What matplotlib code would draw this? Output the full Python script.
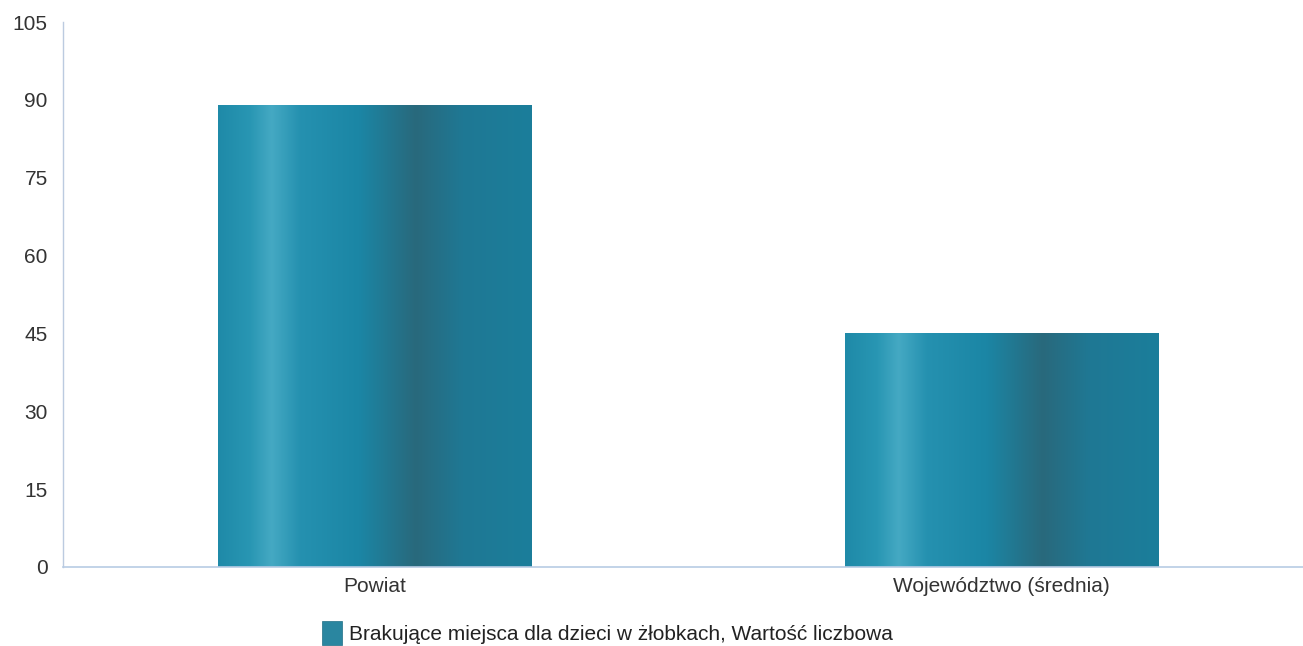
import numpy as np
import matplotlib
matplotlib.use("Agg")
import matplotlib.pyplot as plt
from matplotlib.colors import LinearSegmentedColormap
from matplotlib.patches import Patch

categories = ["Powiat", "Województwo (średnia)"]
values = [89, 45]
series_label = "Brakujące miejsca dla dzieci w żłobkach, Wartość liczbowa"
yticks = [0, 15, 30, 45, 60, 75, 90, 105]

plt.rcParams['font.family'] = ['Liberation Sans', 'DejaVu Sans']

fig = plt.figure(figsize=(13.03, 6.46), dpi=100)
ax = fig.add_axes([63/1303, 1-567/646, 1-63/1303, (567-22)/646])

cmap = LinearSegmentedColormap.from_list("bar", [
    (0.0, "#1f8aa8"), (0.10, "#2896b3"), (0.17, "#45a9c3"), (0.26, "#2591b0"),
    (0.45, "#1b86a5"), (0.63, "#29697c"), (0.78, "#1f7894"), (1.0, "#1b7e9b")])
grad = np.linspace(0, 1, 256).reshape(1, -1)

width = 0.5
x = np.arange(len(categories))
bars = ax.bar(x, values, width=width, color="none", edgecolor="none", zorder=2)
for b in bars:
    x0, y0 = b.get_x(), b.get_y()
    w, h = b.get_width(), b.get_height()
    im = ax.imshow(grad, cmap=cmap, aspect="auto", extent=[x0, x0 + w, y0, y0 + h],
                   interpolation="bicubic", zorder=2)
    im.set_clip_path(b)

ax.set_xlim(-0.498, 1.482)
ax.set_ylim(0, 105)
ax.set_yticks(yticks)
ax.set_xticks(x)
ax.set_xticklabels(categories)
ax.tick_params(axis="both", length=0, labelsize=15, colors="#333333")
ax.tick_params(axis="y", pad=11)
ax.tick_params(axis="x", pad=7)
for s in ["top", "right"]:
    ax.spines[s].set_visible(False)
ax.spines["left"].set_color("#bccbe0")
ax.spines["bottom"].set_color("#b8cce4")
ax.spines["left"].set_linewidth(1.0)
ax.spines["bottom"].set_linewidth(1.2)

handle = Patch(facecolor="#2a86a0", edgecolor="#1f6e85", linewidth=0.5)
fig.legend([handle], [series_label], loc="center", bbox_to_anchor=(607/1303, 1-633/646),
           frameon=False, fontsize=15, handlelength=1.0, handleheight=1.4,
           handletextpad=0.3, labelcolor="#222222")

fig.savefig("out.png", dpi=100)
